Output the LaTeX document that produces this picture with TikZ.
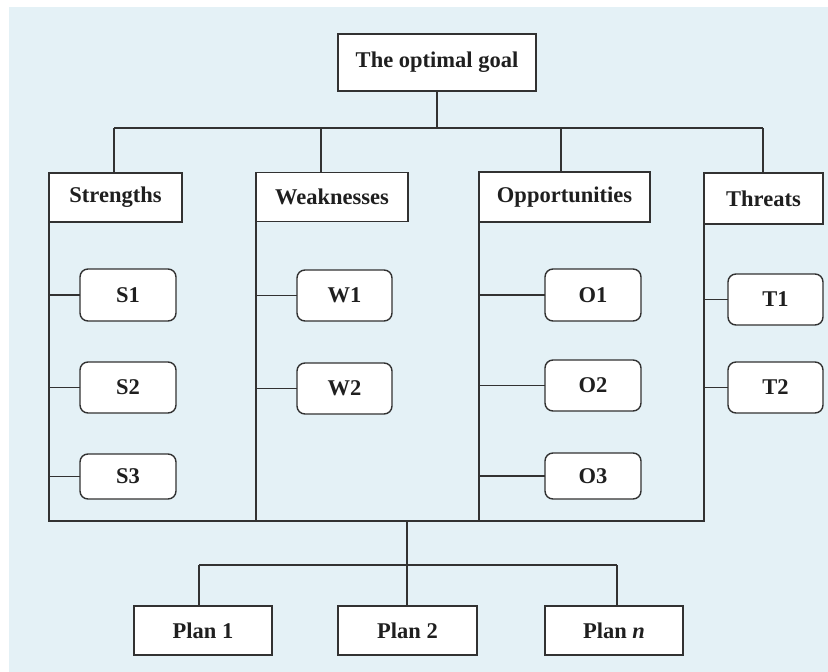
\documentclass[tikz,border=0pt]{standalone}
\usepackage{fontspec}
\setmainfont{Liberation Serif}
\definecolor{bgc}{RGB}{228,241,246}
\definecolor{ln}{RGB}{50,50,50}
\tikzset{
  base/.style={draw=ln, line width=1.4pt, fill=white, inner sep=0pt, outer sep=0pt,
    font=\fontsize{22.5}{26}\selectfont\bfseries, text=black!88, anchor=center},
  sqbox/.style={base, rectangle},
  rndbox/.style={base, rectangle, rounded corners=8pt},
  conn/.style={draw=ln, line width=1.4pt},
}
\begin{document}
\begin{tikzpicture}[x=1pt,y=-1pt]
\useasboundingbox (0,0) rectangle (828,672);
\fill[white] (0,0) rectangle (828,672);
\fill[bgc] (9,7) rectangle (828,672);

% top
\node[sqbox, minimum width=198pt, minimum height=57pt] (goal) at (437,62.5) {The optimal goal};

% categories
\node[sqbox, minimum width=133pt, minimum height=49pt] (str) at (115.5,197.5) {Strengths};
\node[sqbox, minimum width=152pt, minimum height=49pt] (wea) at (332,197) {Weaknesses};
\node[sqbox, minimum width=171pt, minimum height=50pt] (opp) at (564.5,197) {Opportunities};
\node[sqbox, minimum width=119pt, minimum height=51pt] (thr) at (763.5,198.5) {Threats};

% items
\node[rndbox, minimum width=96pt, minimum height=52pt] (s1) at (128,295) {S1};
\node[rndbox, minimum width=96pt, minimum height=51pt] (s2) at (128,387.5) {S2};
\node[rndbox, minimum width=96pt, minimum height=45pt] (s3) at (128,476.5) {S3};
\node[rndbox, minimum width=95pt, minimum height=51pt] (w1) at (344.5,295.5) {W1};
\node[rndbox, minimum width=95pt, minimum height=51pt] (w2) at (344.5,388.5) {W2};
\node[rndbox, minimum width=96pt, minimum height=52pt] (o1) at (593,295) {O1};
\node[rndbox, minimum width=96pt, minimum height=51pt] (o2) at (593,385.5) {O2};
\node[rndbox, minimum width=96pt, minimum height=46pt] (o3) at (593,476) {O3};
\node[rndbox, minimum width=95pt, minimum height=51pt] (t1) at (775.5,299.5) {T1};
\node[rndbox, minimum width=95pt, minimum height=51pt] (t2) at (775.5,387.5) {T2};

% plans
\node[sqbox, minimum width=138pt, minimum height=49pt] (p1) at (203,630.5) {Plan 1};
\node[sqbox, minimum width=139pt, minimum height=49pt] (p2) at (407.5,630.5) {Plan 2};
\node[sqbox, minimum width=138pt, minimum height=49pt] (pn) at (614,630.5) {Plan \textit{n}};

% top bar and drops
\coordinate (d1) at (114,128);
\coordinate (d2) at (321,128);
\coordinate (d3) at (561,128);
\coordinate (d4) at (763,128);
\draw[conn] (goal.south) -- (goal.south |- d1);
\draw[conn] (d1) -- (d4);
\draw[conn] (d1) -- (d1 |- str.north);
\draw[conn] (d2) -- (d2 |- wea.north);
\draw[conn] (d3) -- (d3 |- opp.north);
\draw[conn] (d4) -- (d4 |- thr.north);

% vertical spines and bottom bar
\coordinate (bl) at (49,521);
\coordinate (br) at (704,521);
\draw[conn] (str.south west) -- (bl) -- (br) -- (thr.south west);
\draw[conn] (wea.south west) -- (wea.south west |- bl);
\draw[conn] (opp.south west) -- (opp.south west |- bl);

% item connectors
\foreach \n/\c in {s1/str,s2/str,s3/str,w1/wea,w2/wea,o1/opp,o2/opp,o3/opp,t1/thr,t2/thr}{
  \draw[conn] (\n.west) -- (\n.west -| \c.south west);
}

% plans
\coordinate (bm) at (407,521);
\coordinate (pm) at (407,565);
\coordinate (pl) at (199,565);
\coordinate (pr) at (617,565);
\draw[conn] (bm) -- (pm);
\draw[conn] (pl) -- (pr);
\draw[conn] (pl) -- (pl |- p1.north);
\draw[conn] (pm) -- (pm |- p2.north);
\draw[conn] (pr) -- (pr |- pn.north);
\end{tikzpicture}
\end{document}
